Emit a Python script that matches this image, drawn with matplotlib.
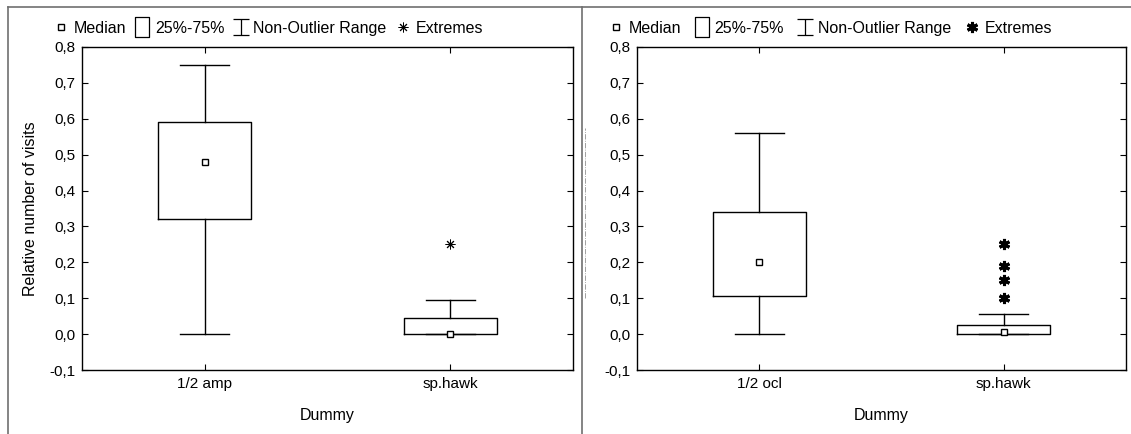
import numpy as np
import matplotlib.pyplot as plt
from matplotlib.lines import Line2D
from matplotlib.path import Path
from matplotlib.ticker import FuncFormatter, MultipleLocator

plt.rcParams['font.family'] = ['Liberation Sans', 'DejaVu Sans']

# data
cats_left = ['1/2 amp', 'sp.hawk']
cats_right = ['1/2 ocl', 'sp.hawk']

med_left = [0.48, 0.0]
q1_left = [0.32, 0.0]
q3_left = [0.59, 0.045]
lo_left = [0.0, 0.0]
hi_left = [0.75, 0.095]
ext_left = [[], [0.25]]

med_right = [0.2, 0.005]
q1_right = [0.105, 0.0]
q3_right = [0.34, 0.025]
lo_right = [0.0, 0.0]
hi_right = [0.56, 0.055]
ext_right = [[], [0.25, 0.19, 0.15, 0.10]]

W, H = 1131, 434
fig = plt.figure(figsize=(W / 100, H / 100), dpi=100)

ibeam = Path([(-1, 1), (1, 1), (0, 1), (0, -1), (-1, -1), (1, -1)],
             [Path.MOVETO, Path.LINETO, Path.MOVETO, Path.LINETO, Path.MOVETO, Path.LINETO])
rect = Path([(-0.7, -1), (0.7, -1), (0.7, 1), (-0.7, 1), (-0.7, -1)],
            [Path.MOVETO, Path.LINETO, Path.LINETO, Path.LINETO, Path.CLOSEPOLY])

comma = FuncFormatter(lambda v, p: ('%.1f' % (0.0 if abs(v) < 1e-9 else v)).replace('.', ','))


def panel(rect_ax, cats, med, q1, q3, lo, hi, ext, bold_ext, ylabel, leg_x, colspace):
    ax = fig.add_axes(rect_ax)
    stats = []
    for i in range(len(cats)):
        stats.append(dict(med=med[i], q1=q1[i], q3=q3[i], whislo=lo[i], whishi=hi[i],
                          mean=med[i], fliers=ext[i], label=cats[i]))
    if bold_ext:
        ext_kw = dict(marker=(6, 2, 0), markersize=8, markeredgecolor='black',
                      markeredgewidth=2.2, linestyle='none')
    else:
        ext_kw = dict(marker=(8, 2, 0), markersize=7, markeredgecolor='black',
                      markeredgewidth=0.7, linestyle='none')
    ax.bxp(stats, positions=[0, 1], widths=0.38, capwidths=0.2, showmeans=True,
           boxprops=dict(color='black', linewidth=1),
           whiskerprops=dict(color='black', linewidth=1),
           capprops=dict(color='black', linewidth=1),
           medianprops=dict(linewidth=0),
           meanprops=dict(marker='s', markersize=5, markerfacecolor='white',
                          markeredgecolor='black', markeredgewidth=1),
           flierprops=ext_kw)
    ax.set_xlim(-0.5, 1.5)
    ax.set_ylim(-0.1, 0.8)
    ax.yaxis.set_major_locator(MultipleLocator(0.1))
    ax.yaxis.set_major_formatter(comma)
    ax.tick_params(direction='in', length=4, width=0.8, top=True, right=True,
                   labelsize=11, pad=5)
    ax.set_xlabel('Dummy', fontsize=11.5, labelpad=12)
    if ylabel:
        ax.set_ylabel(ylabel, fontsize=11.5, labelpad=8)
    for s in ax.spines.values():
        s.set_linewidth(1)

    handles = [
        Line2D([], [], marker='s', markersize=5, markerfacecolor='white', markeredgecolor='black',
               linestyle='none'),
        Line2D([], [], marker=rect, markersize=14, markerfacecolor='white', markeredgecolor='black',
               markeredgewidth=0.9, linestyle='none'),
        Line2D([], [], marker=ibeam, markersize=12, markeredgecolor='black',
               markeredgewidth=0.9, linestyle='none'),
        Line2D([], [], **ext_kw),
    ]
    ax.legend(handles, ['Median', '25%-75%', 'Non-Outlier Range', 'Extremes'],
              ncol=4, loc='lower left', bbox_to_anchor=(leg_x, 1.005), frameon=False,
              handlelength=0.8, handletextpad=0.4, columnspacing=colspace, fontsize=11.5,
              borderaxespad=0.2)
    return ax


panel([82 / W, 1 - 370 / H, 491 / W, 323 / H], cats_left, med_left, q1_left, q3_left,
      lo_left, hi_left, ext_left, False, 'Relative number of visits', -0.075, 0.6)
panel([637 / W, 1 - 370 / H, 489 / W, 323 / H], cats_right, med_right, q1_right, q3_right,
      lo_right, hi_right, ext_right, True, None, -0.076, 0.9)

# panel frames
frame = dict(color='#707070', linewidth=1.2, transform=fig.transFigure)
fig.add_artist(Line2D([8 / W, 1], [1 - 7 / H, 1 - 7 / H], **frame))
fig.add_artist(Line2D([8 / W, 8 / W], [0, 1 - 7 / H], **frame))
fig.add_artist(Line2D([582 / W, 582 / W], [0, 1 - 7 / H], **frame))
fig.add_artist(Line2D([585 / W, 585 / W], [1 - 298 / H, 1 - 128 / H], color='#909090',
                      linewidth=0.6, linestyle='-.', transform=fig.transFigure))

fig.savefig('out.png', dpi=100)
